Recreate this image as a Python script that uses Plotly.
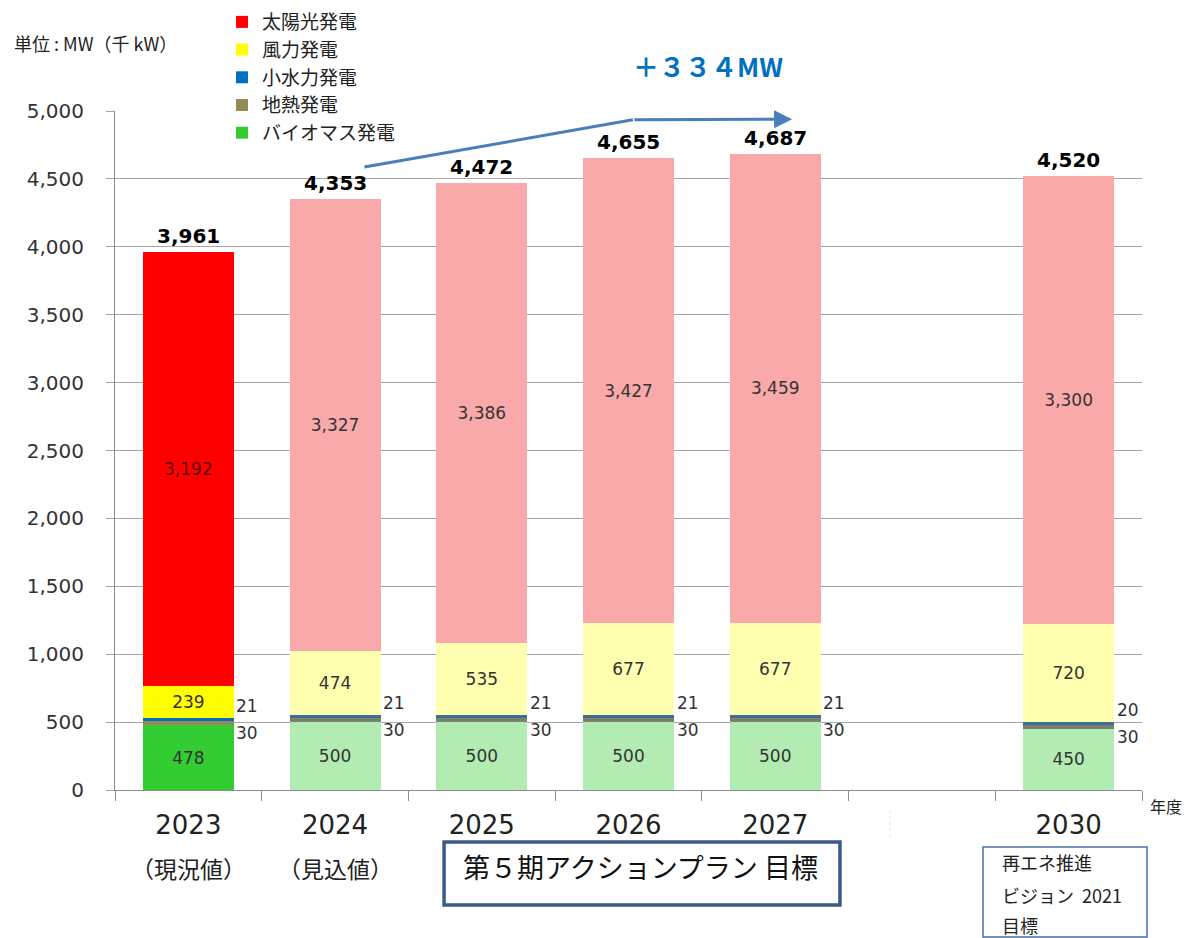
import plotly.graph_objects as go

# ---- data ----
categories = ["2023", "2024", "2025", "2026", "2027", " ", "2030"]
biomass    = [478, 500, 500, 500, 500, None, 450]
geothermal = [30, 30, 30, 30, 30, None, 30]
small_hydro = [21, 21, 21, 21, 21, None, 20]
wind       = [239, 474, 535, 677, 677, None, 720]
solar      = [3192, 3327, 3386, 3427, 3459, None, 3300]
total_labels = ["3,961", "4,353", "4,472", "4,655", "4,687", None, "4,520"]
sub_labels = {"2023": "（現況値）", "2024": "（見込値）"}

series_names = ["バイオマス発電", "地熱発電", "小水力発電", "風力発電", "太陽光発電"]
y_ticks = [0, 500, 1000, 1500, 2000, 2500, 3000, 3500, 4000, 4500, 5000]

# ---- styles ----
solid = {"バイオマス発電": "#33cc33", "地熱発電": "#948a54", "小水力発電": "#0070c0",
         "風力発電": "#ffff00", "太陽光発電": "#ff0000"}
faded = {"バイオマス発電": "#b2ecb2", "地熱発電": "#7a8070", "小水力発電": "#3a6f96",
         "風力発電": "#ffffb0", "太陽光発電": "#f9a9a9"}
JP = "Noto Sans CJK JP"
NUM = "DejaVu Sans"

fig = go.Figure()
series_values = [biomass, geothermal, small_hydro, wind, solar]
for name, vals in zip(series_names, series_values):
    colors = [solid[name] if i == 0 else faded[name] for i in range(len(categories))]
    show_text = name in ("バイオマス発電", "風力発電", "太陽光発電")
    tcolors = ["#5a0000" if (name == "太陽光発電" and i == 0) else "#333333"
               for i in range(len(categories))]
    fig.add_trace(go.Bar(
        x=categories, y=vals, name=name, legendgroup=name,
        marker=dict(color=colors, line=dict(width=0)),
        texttemplate="%{y:,}" if show_text else None,
        textposition="inside" if show_text else "none",
        insidetextanchor="middle", textangle=0,
        textfont=dict(family=NUM, size=17, color=tcolors),
        hoverinfo="x+y+name",
    ))

annotations = []
# totals above bars (category index positions)
for i, c in enumerate(categories):
    if total_labels[i] is None:
        continue
    top = sum(v[i] for v in series_values)
    annotations.append(dict(x=i, y=top, xref="x", yref="y", text=total_labels[i],
                            showarrow=False, xanchor="center", yanchor="bottom", yshift=2,
                            font=dict(family=NUM, size=20, color="#000000", weight="bold")))
    # small hydro & geothermal labels to the right of the bar
    annotations.append(dict(x=i, y=biomass[i] + geothermal[i] + small_hydro[i], xref="x", yref="y",
                            text=str(small_hydro[i]), showarrow=False, xanchor="left",
                            yanchor="bottom", xshift=46,
                            font=dict(family=NUM, size=17, color="#333333")))
    annotations.append(dict(x=i, y=biomass[i] + geothermal[i], xref="x", yref="y",
                            text=str(geothermal[i]), showarrow=False, xanchor="left",
                            yanchor="top", xshift=46,
                            font=dict(family=NUM, size=17, color="#333333")))

for c, t in sub_labels.items():
    annotations.append(dict(x=categories.index(c), y=-0.1149, xref="x", yref="paper", text=t,
                            showarrow=False, xanchor="center", yanchor="middle",
                            font=dict(family=JP, size=23, color="#222222")))

def ptext(x, y, text, size, xanchor="center", color="#222222", bold=False):
    return dict(x=x, y=y, xref="paper", yref="paper", text=text, showarrow=False,
                xanchor=xanchor, yanchor="middle",
                font=dict(family=JP, size=size, color=color, weight="bold" if bold else "normal"))

annotations += [
    ptext(-0.1003, 1.1001, "単位 : MW（千 kW）", 18, xanchor="left"),
    ptext(1.0234, -0.0236, "年度", 16),
    ptext(0.5774, 1.0663, "＋３３４MW", 26, color="#0070c0", bold=True),
    ptext(0.512, -0.1120, "第５期アクションプラン 目標", 27, color="#111111"),
    ptext(0.8617, -0.106, "再エネ推進", 18, xanchor="left"),
    ptext(0.8617, -0.1546, "ビジョン  2021", 18, xanchor="left"),
    ptext(0.8617, -0.1988, "目標", 18, xanchor="left"),
    # arrow head segment
    dict(x=4.115, y=4940, ax=3.03, ay=4935, xref="x", yref="y", axref="x", ayref="y",
         text="", showarrow=True, arrowhead=2, arrowsize=1.2, arrowwidth=3,
         arrowcolor="#4a7ebb"),
]

shapes = [
    dict(type="line", xref="x", yref="y", x0=1.2, y0=4588, x1=3.03, y1=4935,
         line=dict(color="#4a7ebb", width=3)),
    dict(type="rect", xref="paper", yref="paper", x0=0.3204, x1=0.7059, y0=-0.1694, y1=-0.0766,
         line=dict(color="#3b5a87", width=3.5)),
    dict(type="rect", xref="paper", yref="paper", x0=0.8452, x1=1.0049, y0=-0.2165, y1=-0.0839,
         line=dict(color="#4a6fa5", width=1.5)),
    dict(type="line", xref="paper", yref="paper", x0=0.7546, x1=0.7546, y0=-0.0295, y1=-0.0736,
         line=dict(color="#e4e4e4", width=1, dash="dot")),
]

fig.update_layout(
    width=1184, height=930,
    margin=dict(l=107, r=50, t=103, b=148, autoexpand=False),
    paper_bgcolor="white", plot_bgcolor="white",
    barmode="stack", bargap=0.38,
    font=dict(family=JP, color="#333333"),
    showlegend=True,
    legend=dict(x=0.1042, y=1.159,
                xanchor="left", yanchor="top", traceorder="reversed",
                bgcolor="white", font=dict(family=JP, size=19, color="#222222"),
                tracegroupgap=8, itemwidth=30),
    annotations=annotations, shapes=shapes,
    xaxis=dict(type="category", categoryorder="array", categoryarray=categories,
               range=[-0.5, len(categories) - 0.5],
               tickson="boundaries", ticks="outside", ticklen=10, tickcolor="#8c8c8c",
               showline=True, linecolor="#8c8c8c", linewidth=1, showgrid=False,
               ticklabelstandoff=12,
               tickfont=dict(family=NUM, size=26, color="#222222"), zeroline=False),
    yaxis=dict(range=[0, 5000], tickvals=y_ticks, tickformat=",", ticks="outside",
               ticklen=8, tickcolor="#a0a0a0", showline=True, linecolor="#8c8c8c",
               showgrid=True, gridcolor="#a6a6a6", gridwidth=1, zeroline=False,
               ticklabelstandoff=18,
               tickfont=dict(family=NUM, size=20, color="#333333")),
)

fig.write_html("out.html")
